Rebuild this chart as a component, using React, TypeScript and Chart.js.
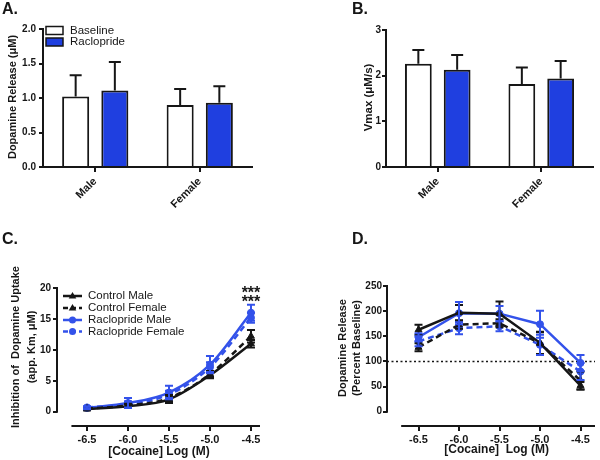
import React, { useEffect, useRef } from "react";
import { Chart, registerables } from "chart.js";

Chart.register(...registerables);

// ---------- data ----------
const barCategories = ["Male", "Female"];
const releaseBaseline = [1.02, 0.9];
const releaseBaselineErr = [0.31, 0.23];
const releaseRaclopride = [1.11, 0.93];
const releaseRacloprideErr = [0.41, 0.24];
const vmaxBaseline = [2.26, 1.82];
const vmaxBaselineErr = [0.3, 0.36];
const vmaxRaclopride = [2.13, 1.94];
const vmaxRacloprideErr = [0.32, 0.38];

const cocaineLog = [-6.5, -6.0, -5.5, -5.0, -4.5];
const kmControlMale = [0.45, 0.9, 2.0, 5.9, 11.0];
const kmControlMaleErr = [0.2, 0.3, 0.6, 0.5, 0.6];
const kmControlFemale = [0.5, 1.0, 2.2, 6.1, 12.2];
const kmControlFemaleErr = [0.2, 0.3, 0.5, 0.5, 1.0];
const kmRacloprideMale = [0.6, 1.4, 3.1, 7.6, 16.0];
const kmRacloprideMaleErr = [0.2, 0.8, 1.1, 1.4, 1.3];
const kmRacloprideFemale = [0.7, 1.2, 2.8, 7.2, 15.2];
const kmRacloprideFemaleErr = [0.2, 0.5, 0.6, 0.8, 0.8];

const relControlMale = [163, 197, 195, 137, 52];
const relControlMaleErr = [10, 15, 24, 22, 8];
const relControlFemale = [128, 173, 176, 136, 62];
const relControlFemaleErr = [8, 8, 8, 22, 18];
const relRacloprideMale = [148, 196, 195, 174, 97];
const relRacloprideMaleErr = [8, 22, 15, 27, 16];
const relRacloprideFemale = [140, 166, 170, 133, 80];
const relRacloprideFemaleErr = [10, 12, 10, 20, 17];

const yTicksKm = [0, 5, 10, 15, 20];
const yTicksRel = [0, 50, 100, 150, 200, 250];

const seriesNames = ["Control Male", "Control Female", "Raclopride Male", "Raclopride Female"];

// ---------- styles ----------
const FONT = "'Liberation Sans', Arial, Helvetica, sans-serif";
const BLACK = "#161616";
const BAR_BLUE = "#1f3fe0";
const LINE_BLUE = "#3352ea";

function txt(
  ctx: CanvasRenderingContext2D,
  s: string,
  x: number,
  y: number,
  font: string,
  align: CanvasTextAlign = "left",
  rot = 0,
  color = BLACK
) {
  ctx.save();
  ctx.translate(x, y);
  if (rot) ctx.rotate(rot);
  ctx.font = font;
  ctx.fillStyle = color;
  ctx.textAlign = align;
  ctx.textBaseline = "middle";
  ctx.fillText(s, 0, 0);
  ctx.restore();
}

function marker(ctx: CanvasRenderingContext2D, style: string, x: number, y: number, r: number, color: string) {
  ctx.save();
  ctx.fillStyle = color;
  ctx.beginPath();
  if (style === "triangle") {
    const h = r * 1.6;
    ctx.moveTo(x, y - h * 0.62);
    ctx.lineTo(x + r * 0.95, y + h * 0.38);
    ctx.lineTo(x - r * 0.95, y + h * 0.38);
    ctx.closePath();
  } else {
    ctx.arc(x, y, r, 0, Math.PI * 2);
  }
  ctx.fill();
  ctx.restore();
}

// error bars plugin (dataset.errs, dataset.errMode: 'up' | 'both')
const errorBars = {
  id: "errorBars",
  afterDatasetsDraw(chart: any) {
    const ctx = chart.ctx as CanvasRenderingContext2D;
    const ys = chart.scales.y;
    chart.data.datasets.forEach((ds: any, i: number) => {
      if (!ds.errs) return;
      const meta = chart.getDatasetMeta(i);
      ctx.save();
      ctx.strokeStyle = ds.errColor || ds.borderColor;
      ctx.lineWidth = ds.errWidth || 2;
      ctx.setLineDash([]);
      meta.data.forEach((el: any, j: number) => {
        const raw = ds.data[j];
        const v = typeof raw === "number" ? raw : raw.y;
        const e = ds.errs[j];
        const x = el.x;
        const top = ys.getPixelForValue(v + e);
        const bot = ds.errMode === "both" ? ys.getPixelForValue(v - e) : el.y;
        const cw = ds.capW || 5;
        ctx.beginPath();
        ctx.moveTo(x, bot);
        ctx.lineTo(x, top);
        ctx.moveTo(x - cw, top);
        ctx.lineTo(x + cw, top);
        if (ds.errMode === "both") {
          ctx.moveTo(x - cw, bot);
          ctx.lineTo(x + cw, bot);
        }
        ctx.stroke();
      });
      ctx.restore();
    });
  },
};

const tickFont = (size: number) => ({ family: FONT, size, weight: "bold" as const });

function barConfig(
  base: number[],
  baseErr: number[],
  rac: number[],
  racErr: number[],
  yMax: number,
  step: number,
  decimals: number,
  pad: any,
  yWidth: number,
  tickPad: number,
  decor: any
) {
  const common = {
    borderColor: BLACK,
    borderWidth: 2,
    borderSkipped: "start",
    categoryPercentage: 0.75,
    barPercentage: 0.69,
    errColor: BLACK,
    errMode: "up",
    capW: 6,
  };
  return {
    type: "bar",
    data: {
      labels: barCategories,
      datasets: [
        { label: "Baseline", data: base, errs: baseErr, backgroundColor: "#ffffff", ...common },
        { label: "Raclopride", data: rac, errs: racErr, backgroundColor: BAR_BLUE, ...common },
      ],
    },
    options: {
      responsive: false,
      animation: false,
      events: [],
      layout: { padding: pad },
      plugins: { legend: { display: false }, tooltip: { enabled: false } },
      scales: {
        x: {
          grid: { offset: false, drawOnChartArea: false, drawTicks: true, tickLength: 5, color: BLACK, lineWidth: 2 },
          border: { color: BLACK, width: 2 },
          ticks: { minRotation: 45, maxRotation: 45, font: tickFont(11), color: BLACK, padding: 3 },
          afterFit: (s: any) => {
            s.height = 63;
          },
        },
        y: {
          min: 0,
          max: yMax,
          ticks: {
            stepSize: step,
            callback: (v: any) => Number(v).toFixed(decimals),
            font: tickFont(10),
            color: BLACK,
            padding: tickPad,
          },
          grid: { drawOnChartArea: false, tickLength: 4, color: BLACK, lineWidth: 2 },
          border: { color: BLACK, width: 2 },
          afterFit: (s: any) => {
            s.width = yWidth;
          },
        },
      },
    },
    plugins: [errorBars, decor],
  };
}

const decorA = {
  id: "decorA",
  afterDraw(chart: any) {
    const ctx = chart.ctx;
    txt(ctx, "A.", 2, 10, `bold 16px ${FONT}`);
    txt(ctx, "Dopamine Release (μM)", 13, 97, `bold 11px ${FONT}`, "center", -Math.PI / 2);
    // legend
    const rows = [
      { t: "Baseline", fill: "#ffffff", y: 30.5 },
      { t: "Raclopride", fill: BAR_BLUE, y: 42 },
    ];
    rows.forEach((r) => {
      ctx.save();
      ctx.fillStyle = r.fill;
      ctx.fillRect(46, r.y - 4, 17, 8);
      ctx.strokeStyle = BLACK;
      ctx.lineWidth = 1.5;
      ctx.strokeRect(46, r.y - 4, 17, 8);
      ctx.restore();
      txt(ctx, r.t, 70, r.y, `11.5px ${FONT}`);
    });
  },
};

const decorB = {
  id: "decorB",
  afterDraw(chart: any) {
    const ctx = chart.ctx;
    txt(ctx, "B.", 52, 10, `bold 16px ${FONT}`);
    txt(ctx, "Vmax (μM/s)", 68.5, 97.5, `bold 11.5px ${FONT}`, "center", -Math.PI / 2);
  },
};

function lineDatasets(
  vals: number[][],
  errs: number[][],
  smooth: boolean
) {
  const colors = [BLACK, BLACK, LINE_BLUE, LINE_BLUE];
  const styles = ["triangle", "triangle", "circle", "circle"];
  const dashes = [[], [6, 4], [], [6, 4]];
  return vals.map((arr, k) => ({
    label: seriesNames[k],
    data: cocaineLog.map((x, i) => ({ x, y: arr[i] })),
    errs: errs[k],
    errMode: "both",
    capW: 4,
    errWidth: 2,
    borderColor: colors[k],
    backgroundColor: colors[k],
    borderWidth: 2.5,
    borderDash: dashes[k],
    pointStyle: styles[k],
    pointRadius: styles[k] === "triangle" ? 4 : 3.5,
    pointBackgroundColor: colors[k],
    pointBorderColor: colors[k],
    pointBorderWidth: 1,
    tension: smooth ? 0.4 : 0,
    cubicInterpolationMode: smooth ? "monotone" : "default",
    fill: false,
  }));
}

function lineConfig(
  datasets: any[],
  xMin: number,
  xMax: number,
  yMin: number,
  yMax: number,
  yTicks: number[],
  pad: any,
  yWidth: number,
  yTickPad: number,
  decor: any
) {
  return {
    type: "line",
    data: { datasets },
    options: {
      responsive: false,
      animation: false,
      events: [],
      layout: { padding: pad },
      plugins: { legend: { display: false }, tooltip: { enabled: false } },
      scales: {
        x: {
          type: "linear",
          min: xMin,
          max: xMax,
          afterBuildTicks: (s: any) => {
            s.ticks = cocaineLog.map((v) => ({ value: v }));
          },
          ticks: {
            autoSkip: false,
            maxRotation: 0,
            callback: (v: any) => Number(v).toFixed(1),
            font: tickFont(11),
            color: BLACK,
            padding: 2,
          },
          grid: { drawOnChartArea: false, tickLength: 5, color: BLACK, lineWidth: 2 },
          border: { display: false },
          afterFit: (s: any) => {
            s.height = 34;
          },
        },
        y: {
          min: yMin,
          max: yMax,
          afterBuildTicks: (s: any) => {
            s.ticks = yTicks.map((v) => ({ value: v }));
          },
          ticks: { autoSkip: false, font: tickFont(10), color: BLACK, padding: yTickPad },
          grid: { drawOnChartArea: false, tickLength: 4, color: BLACK, lineWidth: 2 },
          border: { display: false },
          afterFit: (s: any) => {
            s.width = yWidth;
          },
        },
      },
    },
    plugins: [errorBars, decor],
  };
}

function drawOffsetAxes(chart: any, xStart: number, yTop: number) {
  const ctx = chart.ctx as CanvasRenderingContext2D;
  const xs = chart.scales.x;
  const ys = chart.scales.y;
  const a = chart.chartArea;
  ctx.save();
  ctx.strokeStyle = BLACK;
  ctx.lineWidth = 2;
  ctx.setLineDash([]);
  ctx.beginPath();
  ctx.moveTo(a.left, ys.getPixelForValue(0) + 1);
  ctx.lineTo(a.left, ys.getPixelForValue(yTop) - 1);
  ctx.moveTo(xs.getPixelForValue(xStart), a.bottom);
  ctx.lineTo(a.right, a.bottom);
  ctx.stroke();
  ctx.restore();
}

const decorC = {
  id: "decorC",
  afterDraw(chart: any) {
    const ctx = chart.ctx as CanvasRenderingContext2D;
    drawOffsetAxes(chart, -6.69, 20);
    txt(ctx, "C.", 2, 10, `bold 16px ${FONT}`);
    txt(ctx, "Inhibition of  Dopamine Uptake", 16, 117, `bold 11px ${FONT}`, "center", -Math.PI / 2);
    txt(ctx, "(app. Km, μM)", 32, 117, `bold 11px ${FONT}`, "center", -Math.PI / 2);
    txt(ctx, "[Cocaine] Log (M)", 159, 221.5, `bold 12px ${FONT}`, "center");
    // stars
    const xs = chart.scales.x.getPixelForValue(-4.5);
    txt(ctx, "***", xs, 64, `bold 16px ${FONT}`, "center");
    txt(ctx, "***", xs, 73, `bold 16px ${FONT}`, "center");
    // legend
    const colors = [BLACK, BLACK, LINE_BLUE, LINE_BLUE];
    const styles = ["triangle", "triangle", "circle", "circle"];
    const dashes = [[], [5, 3], [], [5, 3]];
    const rowsY = [66, 78, 90, 101.5];
    seriesNames.forEach((n, k) => {
      ctx.save();
      ctx.strokeStyle = colors[k];
      ctx.lineWidth = 2.5;
      ctx.setLineDash(dashes[k]);
      ctx.beginPath();
      ctx.moveTo(63, rowsY[k]);
      ctx.lineTo(82, rowsY[k]);
      ctx.stroke();
      ctx.restore();
      marker(ctx, styles[k], 72.5, rowsY[k], styles[k] === "triangle" ? 4 : 3.5, colors[k]);
      txt(ctx, n, 88, rowsY[k], `11.5px ${FONT}`);
    });
  },
};

const decorD = {
  id: "decorD",
  beforeDatasetsDraw(chart: any) {
    const ctx = chart.ctx as CanvasRenderingContext2D;
    const y = chart.scales.y.getPixelForValue(100);
    const a = chart.chartArea;
    ctx.save();
    ctx.strokeStyle = BLACK;
    ctx.lineWidth = 1.5;
    ctx.setLineDash([2, 2.5]);
    ctx.beginPath();
    ctx.moveTo(a.left, y);
    ctx.lineTo(a.right, y);
    ctx.stroke();
    ctx.restore();
  },
  afterDraw(chart: any) {
    const ctx = chart.ctx as CanvasRenderingContext2D;
    drawOffsetAxes(chart, -6.714, 250);
    txt(ctx, "D.", 52, 10, `bold 16px ${FONT}`);
    txt(ctx, "Dopamine Release", 42.7, 118, `bold 11px ${FONT}`, "center", -Math.PI / 2);
    txt(ctx, "(Percent Baseline)", 56.5, 118, `bold 11px ${FONT}`, "center", -Math.PI / 2);
    txt(ctx, "[Cocaine]  Log (M)", 196.7, 220, `bold 12px ${FONT}`, "center");
  },
};

function Panel({ left, top, build }: { left: number; top: number; build: () => any }) {
  const ref = useRef<HTMLCanvasElement>(null);
  useEffect(() => {
    const chart = new Chart(ref.current as HTMLCanvasElement, build());
    return () => chart.destroy();
  }, []);
  return (
    <canvas
      ref={ref}
      width={300}
      height={230}
      style={{ position: "absolute", left, top, width: 300, height: 230 }}
    />
  );
}

export default function App() {
  return (
    <div
      style={{
        position: "fixed",
        left: 0,
        top: 0,
        width: 600,
        height: 460,
        background: "#ffffff",
        overflow: "hidden",
      }}
    >
      <Panel
        left={0}
        top={0}
        build={() =>
          barConfig(
            releaseBaseline,
            releaseBaselineErr,
            releaseRaclopride,
            releaseRacloprideErr,
            2,
            0.5,
            1,
            { left: 0, right: 48, top: 29, bottom: 0 },
            43,
            3,
            decorA
          )
        }
      />
      <Panel
        left={300}
        top={0}
        build={() =>
          barConfig(
            vmaxBaseline,
            vmaxBaselineErr,
            vmaxRaclopride,
            vmaxRacloprideErr,
            3,
            1,
            0,
            { left: 55, right: 7, top: 30, bottom: 0 },
            31,
            1,
            decorB
          )
        }
      />
      <Panel
        left={0}
        top={230}
        build={() =>
          lineConfig(
            lineDatasets(
              [kmControlMale, kmControlFemale, kmRacloprideMale, kmRacloprideFemale],
              [kmControlMaleErr, kmControlFemaleErr, kmRacloprideMaleErr, kmRacloprideFemaleErr],
              true
            ),
            -6.866,
            -4.39,
            -2.31,
            20,
            yTicksKm,
            { left: 0, right: 40, top: 58, bottom: 0 },
            57,
            2,
            decorC
          )
        }
      />
      <Panel
        left={300}
        top={230}
        build={() =>
          lineConfig(
            lineDatasets(
              [relControlMale, relControlFemale, relRacloprideMale, relRacloprideFemale],
              [relControlMaleErr, relControlFemaleErr, relRacloprideMaleErr, relRacloprideFemaleErr],
              false
            ),
            -6.889,
            -4.321,
            -28.4,
            250,
            yTicksRel,
            { left: 0, right: 5, top: 56, bottom: 0 },
            87,
            1,
            decorD
          )
        }
      />
    </div>
  );
}
